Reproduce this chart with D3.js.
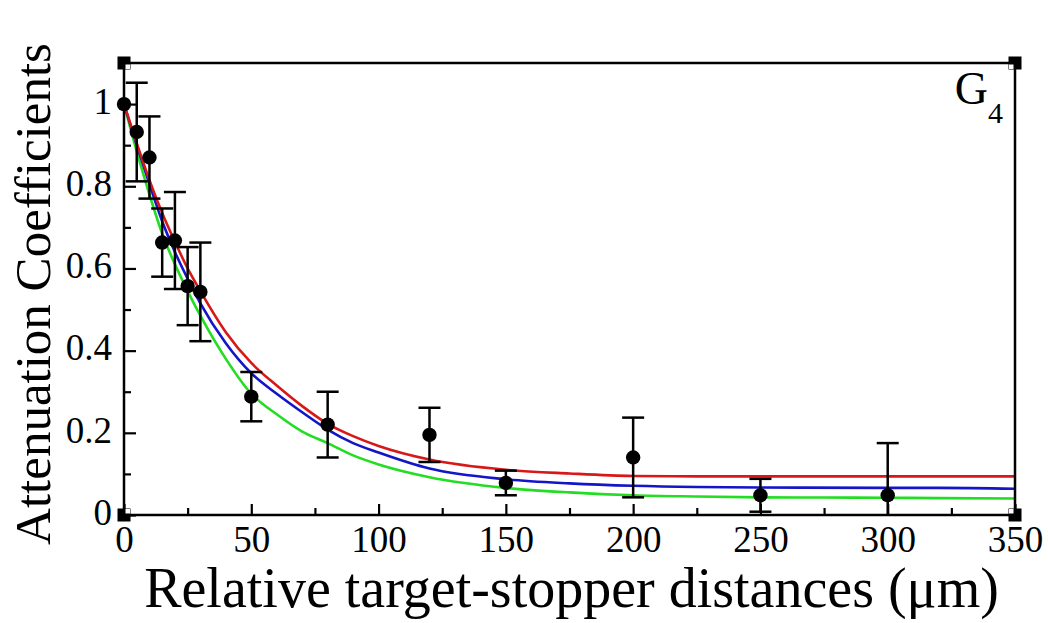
<!DOCTYPE html>
<html>
<head>
<meta charset="utf-8">
<script src="https://cdn.jsdelivr.net/npm/d3@7"></script>
<style>
  body { margin: 0; background: #fff; }
  text { font-family: "Liberation Serif", "Times New Roman", serif; fill: #000; }
</style>
</head>
<body>
<div id="chart"></div>
<script>
// measured points (distance in um, attenuation, error)
var pointX = [0, 5, 10, 15, 20, 25, 30, 50, 80, 120, 150, 200, 250, 300];
var pointY = [1.0, 0.932, 0.870, 0.663, 0.668, 0.557, 0.543, 0.288, 0.220, 0.195, 0.078, 0.140, 0.048, 0.048];
var pointErr = [0, 0.12, 0.10, 0.083, 0.118, 0.095, 0.12, 0.06, 0.08, 0.066, 0.03, 0.097, 0.04, 0.127];

// fitted curves
var curveX = [0, 5, 10, 15, 20, 25, 30, 40, 50, 60, 70, 80, 90, 100, 120, 150, 175, 200, 225, 250, 300, 320, 350];
var redY   = [1.0, 0.905, 0.815, 0.735, 0.665, 0.600, 0.545, 0.445, 0.370, 0.315, 0.265, 0.222, 0.192, 0.168, 0.135, 0.110, 0.101, 0.095, 0.094, 0.094, 0.094, 0.094, 0.094];
var blueY  = [1.0, 0.900, 0.805, 0.715, 0.640, 0.575, 0.515, 0.418, 0.345, 0.295, 0.250, 0.208, 0.175, 0.152, 0.113, 0.087, 0.077, 0.071, 0.068, 0.067, 0.066, 0.066, 0.064];
var greenY = [1.0, 0.885, 0.780, 0.685, 0.610, 0.545, 0.485, 0.380, 0.295, 0.245, 0.203, 0.175, 0.145, 0.123, 0.092, 0.066, 0.055, 0.048, 0.045, 0.043, 0.042, 0.041, 0.040];

var xTicks = [0, 50, 100, 150, 200, 250, 300, 350];
var yTicks = [0, 0.2, 0.4, 0.6, 0.8, 1];

(function() {
  var width = 1048, height = 623;
  var mLeft = 124, mRight = 1015, mTop = 63, mBottom = 515;

  var svg = d3.select("#chart").append("svg").attr("width", width).attr("height", height);

  var x = d3.scaleLinear().domain([0, 350]).range([mLeft, mRight]);
  var y = d3.scaleLinear().domain([0, 1.1]).range([mBottom, mTop]);

  svg.append("clipPath").attr("id", "plotClip")
    .append("rect").attr("x", mLeft).attr("y", mTop).attr("width", mRight - mLeft).attr("height", mBottom - mTop);

  // curves
  var line = d3.line()
    .x(function(d) { return x(d[0]); })
    .y(function(d) { return y(d[1]); })
    .curve(d3.curveMonotoneX);

  var curves = [
    {vals: greenY, color: "#22dd22"},
    {vals: blueY, color: "#1414c8"},
    {vals: redY, color: "#d81818"}
  ];

  var gLines = svg.append("g").attr("clip-path", "url(#plotClip)");
  curves.forEach(function(c) {
    gLines.append("path")
      .datum(curveX.map(function(v, i) { return [v, c.vals[i]]; }))
      .attr("d", line)
      .attr("fill", "none")
      .attr("stroke", c.color)
      .attr("stroke-width", 2.6);
  });

  // error bars + dots
  var pts = pointX.map(function(v, i) { return {x: v, y: pointY[i], e: pointErr[i]}; });
  var gErr = svg.append("g").attr("clip-path", "url(#plotClip)")
    .attr("stroke", "#000").attr("stroke-width", 2.5);
  pts.filter(function(d) { return d.e > 0; }).forEach(function(d) {
    var cx = x(d.x), y1 = y(d.y + d.e), y2 = y(d.y - d.e);
    gErr.append("line").attr("x1", cx).attr("x2", cx).attr("y1", y1).attr("y2", y2);
    gErr.append("line").attr("x1", cx - 11).attr("x2", cx + 11).attr("y1", y1).attr("y2", y1);
    gErr.append("line").attr("x1", cx - 11).attr("x2", cx + 11).attr("y1", y2).attr("y2", y2);
  });

  svg.append("g").selectAll("circle")
    .data(pts)
    .enter()
    .append("circle")
    .attr("cx", function(d) { return x(d.x); })
    .attr("cy", function(d) { return y(d.y); })
    .attr("r", 7.2)
    .attr("fill", "#000");

  // axes with inward ticks
  var xAxis = svg.append("g").attr("transform", "translate(0," + mBottom + ")")
    .call(d3.axisBottom(x).tickValues(d3.range(0, 351, 25)).tickSize(-7).tickFormat(""));
  xAxis.selectAll(".tick line").filter(function(d) { return d % 50 === 0; }).attr("y2", -11);
  var xLab = svg.append("g").attr("transform", "translate(0," + mBottom + ")")
    .call(d3.axisBottom(x).tickValues(xTicks).tickSize(0).tickPadding(0).tickFormat(d3.format("d")));
  xLab.selectAll("text").attr("y", 37).attr("dy", 0).style("font-size", "37px").style("font-family", "Liberation Serif, serif");

  var yAxis = svg.append("g").attr("transform", "translate(" + mLeft + ",0)")
    .call(d3.axisLeft(y).tickValues(d3.range(0, 11).map(function(i) { return i / 10; })).tickSize(-7).tickFormat(""));
  yAxis.selectAll(".tick line").filter(function(d, i) { return i % 2 === 0; }).attr("x2", 12);
  var yLab = svg.append("g").attr("transform", "translate(" + mLeft + ",0)")
    .call(d3.axisLeft(y).tickValues(yTicks).tickSize(0).tickPadding(12)
      .tickFormat(function(d) { return d === 0 || d === 1 ? d3.format("d")(d) : d3.format(".1f")(d); }));
  yLab.selectAll("text").attr("dy", "0.25em").style("font-size", "37px").style("font-family", "Liberation Serif, serif");

  svg.selectAll(".tick line").attr("stroke", "#000").attr("stroke-width", 2.2);
  svg.selectAll(".domain").remove();

  // frame
  svg.append("rect").attr("x", mLeft).attr("y", mTop).attr("width", mRight - mLeft).attr("height", mBottom - mTop)
    .attr("fill", "none").attr("stroke", "#000").attr("stroke-width", 2.5);

  // corner markers
  [[mLeft, mTop, 1, 1], [mRight, mTop, -1, 1], [mLeft, mBottom, 1, -1], [mRight, mBottom, -1, -1]].forEach(function(c) {
    svg.append("rect").attr("x", c[0] - 6.5).attr("y", c[1] - 6.5).attr("width", 13).attr("height", 13).attr("fill", "#000");
    svg.append("rect")
      .attr("x", c[2] > 0 ? c[0] + 1.5 : c[0] - 6)
      .attr("y", c[3] > 0 ? c[1] + 1.5 : c[1] - 6)
      .attr("width", 4.5).attr("height", 4.5).attr("fill", "#fff");
  });

  // G4 label
  var g4 = svg.append("text").attr("x", 1003).attr("y", 104).attr("text-anchor", "end").style("font-size", "46px");
  g4.append("tspan").text("G");
  g4.append("tspan").attr("dy", 19).style("font-size", "30px").text("4");

  // axis titles
  svg.append("text").attr("x", (mLeft + mRight) / 2 + 2).attr("y", 607).attr("text-anchor", "middle")
    .style("font-size", "56px").text("Relative target-stopper distances (\u03bcm)");
  svg.append("text").attr("transform", "translate(50," + ((mTop + mBottom) / 2 + 5) + ") rotate(-90)")
    .attr("text-anchor", "middle").style("font-size", "51px").text("Attenuation Coefficients");
})();
</script>
</body>
</html>
